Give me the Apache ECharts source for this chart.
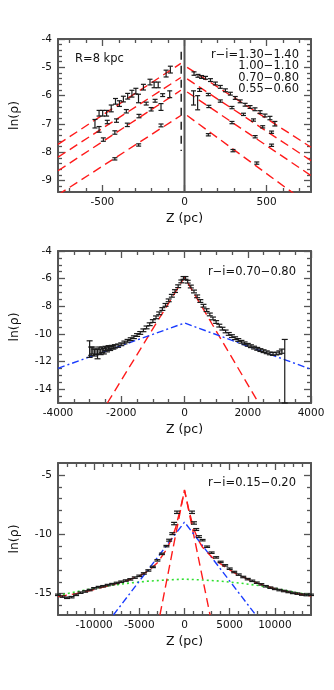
<!DOCTYPE html>
<html>
<head>
<meta charset="utf-8">
<title>ln(rho) vs Z</title>
<script src="https://cdn.jsdelivr.net/npm/echarts@6/dist/echarts.min.js"></script>
<style>
  html, body { margin: 0; padding: 0; background: #fff; }
  #main { width: 334px; height: 690px; }
</style>
</head>
<body>
<div id="main"></div>
<script>
// ---------- panel 1 : R = 8 kpc, four r-i bins  [Z, ln(rho), err]
const binNames = ['r−i=1.30−1.40', '1.00−1.10', '0.70−0.80', '0.55−0.60'];
const bin1Pts = [
  [-545,-6.99,0.15],[-520,-6.62,0.1],[-498,-6.62,0.1],[-474,-6.62,0.1],[-446,-6.45,0.12],
  [-420,-6.2,0.1],[-396,-6.28,0.1],[-372,-6.12,0.1],[-346,-6.02,0.1],[-320,-5.93,0.12],
  [-296,-5.84,0.1],[-250,-5.7,0.1],[-210,-5.52,0.1],[-185,-5.62,0.1],[-160,-5.62,0.1],
  [-112,-5.22,0.12],[-86,-5.08,0.12],
  [58,-5.22,0.06],[82,-5.3,0.05],[104,-5.34,0.05],[128,-5.37,0.05],[158,-5.45,0.05],
  [188,-5.57,0.05],[218,-5.69,0.05],[249,-5.81,0.05],[279,-5.93,0.05],[309,-6.08,0.05],
  [339,-6.2,0.05],[369,-6.32,0.05],[399,-6.4,0.05],[429,-6.48,0.05],[460,-6.58,0.05],
  [490,-6.7,0.05],[520,-6.79,0.06],[550,-6.99,0.08]
];
const bin2Pts = [
  [-520,-7.19,0.1],[-470,-6.93,0.06],[-414,-6.88,0.06],[-354,-6.55,0.06],[-280,-6.1,0.15],
  [-233,-6.28,0.05],[-179,-6.18,0.05],[-133,-5.98,0.05],[-90,-5.95,0.12],
  [92,-5.8,0.05],[145,-5.96,0.04],[218,-6.19,0.04],[289,-6.42,0.04],[359,-6.66,0.04],
  [420,-6.86,0.04],[476,-7.1,0.04],[530,-7.29,0.04]
];
const bin3Pts = [
  [-494,-7.55,0.06],[-424,-7.3,0.06],[-348,-7.03,0.06],[-277,-6.72,0.06],[-203,-6.48,0.06],
  [-143,-6.4,0.12],
  [55,-6.08,0.25],[80,-6.25,0.25],[148,-6.38,0.04],[289,-6.95,0.04],[430,-7.45,0.04],[530,-7.75,0.04]
];
const bin4Pts = [
  [-424,-8.23,0.04],[-279,-7.74,0.04],[-143,-7.05,0.05],
  [145,-7.38,0.04],[295,-7.94,0.04],[440,-8.38,0.04]
];
// exponential fits (straight in ln rho), left and right of the plane
const fitZLeft = [-770, -22];
const fitLnLeft = [[-7.72,-4.86],[-8.17,-5.36],[-8.65,-5.81],[-9.5,-6.7]];
const fitZRight = [16, 770];
const fitLnRight = [[-5.0,-7.82],[-5.41,-8.29],[-5.87,-8.82],[-6.7,-9.9]];
const sunLine = [[-20,-4.45],[-20,-7.95]];
const zeroLine = [[0,-9.4],[0,-4]];

// ---------- panel 2 : r-i = 0.70-0.80, full Z range
const p2Pts = [
  [-3000,-11.1,0.6],[-2950,-11.25,0.3],[-2900,-11.2,0.25],[-2850,-11.35,0.25],[-2800,-11.3,0.2],
  [-2750,-11.45,0.35],[-2700,-11.2,0.25],[-2650,-11.3,0.2],[-2600,-11.15,0.2],[-2550,-11.25,0.2],
  [-2500,-11.05,0.15],[-2450,-11.15,0.15],[-2400,-11.0,0.15],[-2350,-11.05,0.15],[-2300,-10.95,0.12],
  [-2250,-10.98,0.12],[-2200,-10.9,0.12],[-2100,-10.85,0.12],[-2000,-10.75,0.1],[-1900,-10.62,0.1],
  [-1800,-10.5,0.1],[-1700,-10.38,0.1],[-1600,-10.24,0.1],[-1500,-10.08,0.1],[-1400,-9.93,0.1],
  [-1300,-9.74,0.1],[-1200,-9.53,0.1],[-1100,-9.3,0.1],[-1000,-9.07,0.1],[-900,-8.8,0.1],
  [-800,-8.51,0.1],[-700,-8.2,0.1],[-600,-7.9,0.1],[-500,-7.57,0.1],[-400,-7.24,0.1],
  [-300,-6.9,0.1],[-200,-6.55,0.1],[-100,-6.2,0.1],[-30,-5.95,0.1],
  [30,-5.95,0.1],[100,-6.22,0.1],[200,-6.57,0.1],[300,-6.93,0.1],[400,-7.28,0.1],
  [500,-7.62,0.1],[600,-7.96,0.1],[700,-8.28,0.1],[800,-8.59,0.1],[900,-8.88,0.1],
  [1000,-9.14,0.1],[1100,-9.4,0.1],[1200,-9.62,0.1],[1300,-9.82,0.1],[1400,-10.0,0.1],
  [1500,-10.16,0.1],[1600,-10.31,0.1],[1700,-10.44,0.1],[1800,-10.57,0.1],[1900,-10.68,0.1],
  [2000,-10.79,0.1],[2100,-10.89,0.1],[2200,-10.99,0.1],[2300,-11.08,0.1],[2400,-11.17,0.1],
  [2500,-11.25,0.1],[2600,-11.33,0.1],[2700,-11.41,0.1],[2800,-11.45,0.1],[2900,-11.42,0.1],
  [3000,-11.35,0.12],[3080,-11.25,0.15],[3170,-11.2,3.8,0.8]
];
const p2Thin = [[-2440,-15],[0,-5.9],[2345,-15]];
const p2Thick = [[-4000,-12.49],[0,-9.21],[4000,-12.56]];

// ---------- panel 3 : r-i = 0.15-0.20
const p3Pts = [
  [-14000,-15.1,0.06],[-13500,-15.25,0.06],[-13000,-15.35,0.06],[-12500,-15.3,0.06],[-12000,-15.1,0.06],
  [-11500,-14.92,0.06],[-11000,-14.82,0.06],[-10500,-14.7,0.06],[-10000,-14.55,0.06],[-9500,-14.45,0.06],
  [-9000,-14.38,0.06],[-8500,-14.28,0.06],[-8000,-14.2,0.06],[-7500,-14.1,0.06],[-7000,-14.0,0.06],
  [-6500,-13.9,0.06],[-6000,-13.8,0.06],[-5500,-13.65,0.06],[-5000,-13.5,0.06],[-4500,-13.3,0.06],
  [-4000,-13.05,0.06],[-3500,-12.75,0.06],[-3000,-12.2,0.06],[-2500,-11.65,0.06],[-2000,-11.0,0.06],
  [-1700,-10.5,0.08],[-1350,-9.95,0.08],[-1150,-9.1,0.1],[-830,-8.15,0.1],
  [830,-8.15,0.1],[1050,-9.05,0.1],[1300,-9.6,0.08],[1600,-10.2,0.08],[2000,-10.5,0.06],
  [2500,-11.05,0.06],[3000,-11.55,0.06],[3500,-11.95,0.06],[4000,-12.33,0.06],[4500,-12.62,0.06],
  [5000,-12.9,0.06],[5500,-13.18,0.06],[6000,-13.4,0.06],[6500,-13.6,0.06],[7000,-13.78,0.06],
  [7500,-13.92,0.06],[8000,-14.08,0.06],[8500,-14.22,0.06],[9000,-14.38,0.06],[9500,-14.5,0.06],
  [10000,-14.6,0.06],[10500,-14.7,0.06],[11000,-14.78,0.06],[11500,-14.86,0.06],[12000,-14.94,0.06],
  [12500,-15.0,0.06],[13000,-15.08,0.06],[13500,-15.12,0.06],[14000,-15.1,0.06]
];
const p3Thin = [[-2720,-16.8],[0,-6.26],[2830,-16.8]];
const p3Thick = [[-7870,-16.8],[0,-8.98],[7890,-16.8]];
const p3Halo = [[-14000,-15.15],[-12000,-14.85],[-10000,-14.55],[-8000,-14.3],[-6000,-14.1],
  [-4000,-13.95],[-2000,-13.85],[0,-13.78],[2000,-13.85],[4000,-13.95],[6000,-14.1],
  [8000,-14.3],[10000,-14.55],[12000,-14.85],[14000,-15.15]];
const p3Total = [[-14000,-15.25],[-12000,-15.0],[-10000,-14.65],[-8000,-14.25],[-6000,-13.8],
  [-5000,-13.5],[-4000,-13.1],[-3000,-12.4],[-2000,-11.3],[-1500,-10.5],[-1000,-9.5],[-500,-8.0],
  [0,-6.3],[500,-8.0],[1000,-9.5],[1500,-10.45],[2000,-11.1],[3000,-11.9],[4000,-12.5],
  [5000,-13.0],[6000,-13.45],[8000,-14.1],[10000,-14.6],[12000,-14.95],[14000,-15.2]];

// ---------- tick values
const p1XMajor = [-500, 0, 500];
const p1XMinor = [-700,-600,-400,-300,-200,-100,100,200,300,400,600,700];
const p1YMajor = [-9,-8,-7,-6,-5,-4];
const p1YMinor = [-9.2,-8.8,-8.6,-8.4,-8.2,-7.8,-7.6,-7.4,-7.2,-6.8,-6.6,-6.4,-6.2,-5.8,-5.6,-5.4,-5.2,-4.8,-4.6,-4.4,-4.2];
const p2XMajor = [-4000,-2000,0,2000,4000];
const p2XMinor = [-3500,-3000,-2500,-1500,-1000,-500,500,1000,1500,2500,3000,3500];
const p2YMajor = [-14,-12,-10,-8,-6,-4];
const p2YMinor = [-14.5,-13.5,-13,-12.5,-11.5,-11,-10.5,-9.5,-9,-8.5,-7.5,-7,-6.5,-5.5,-5,-4.5];
const p3XMajor = [-10000,-5000,0,5000,10000];
const p3XMinor = [-13000,-12000,-11000,-9000,-8000,-7000,-6000,-4000,-3000,-2000,-1000,
  1000,2000,3000,4000,6000,7000,8000,9000,11000,12000,13000];
const p3YMajor = [-15,-10,-5];
const p3YMinor = [-16,-14,-13,-12,-11,-9,-8,-7,-6];

const FONT = 'DejaVu Sans';
const frame = '#555';
const RED = '#ff1a1a', BLUE = '#1a3cff', GREEN = '#2ee02e';

const grids = [
  { left: 58, top: 39, width: 253, height: 153 },
  { left: 58, top: 251, width: 253, height: 152 },
  { left: 58, top: 463, width: 253, height: 152 }
];

function axisGroup(dim, grid, min, max, major, minor) {
  const pos = dim === 'x' ? ['bottom', 'top'] : ['left', 'right'];
  const out = [];
  pos.forEach((p, k) => {
    const base = {
      type: 'value', gridIndex: grid, position: p, min: min, max: max,
      splitLine: { show: false }, axisLabel: { show: false }
    };
    out.push(Object.assign({}, base, {
      axisLine: { show: true, onZero: false, lineStyle: { color: frame, width: 2 } },
      axisTick: { show: true, inside: true, length: 7, customValues: major, lineStyle: { color: frame, width: 1.3 } }
    }));
    out.push(Object.assign({}, base, {
      axisLine: { show: false, onZero: false },
      axisTick: { show: true, inside: true, length: 4, customValues: minor, lineStyle: { color: frame, width: 1.3 } }
    }));
  });
  // first axis carries labels and name
  out[0].axisLabel = {
    show: true, customValues: major, fontFamily: FONT, fontSize: 10.5, color: '#111',
    margin: dim === 'x' ? 5 : 6, formatter: v => String(v)
  };
  out[0].name = dim === 'x' ? 'Z (pc)' : 'ln(ρ)';
  out[0].nameLocation = 'middle';
  out[0].nameGap = dim === 'x' ? 20 : 37;
  out[0].nameTextStyle = { fontFamily: FONT, fontSize: 12.5, color: '#111' };
  return out;
}

const xAxes = [].concat(
  axisGroup('x', 0, -770, 770, p1XMajor, p1XMinor),
  axisGroup('x', 1, -4000, 4000, p2XMajor, p2XMinor),
  axisGroup('x', 2, -14000, 14000, p3XMajor, p3XMinor)
);
const yAxes = [].concat(
  axisGroup('y', 0, -9.4, -4, p1YMajor, p1YMinor),
  axisGroup('y', 1, -15, -4, p2YMajor, p2YMinor),
  axisGroup('y', 2, -16.8, -4, p3YMajor, p3YMinor)
);

function lineSeries(grid, data, color, type, width) {
  return {
    type: 'line', xAxisIndex: grid * 4, yAxisIndex: grid * 4, data: data,
    symbol: 'none', silent: true, clip: true, z: 3,
    lineStyle: { color: color, type: type, width: width }
  };
}

function errSeries(grid, pts, capHalf) {
  return {
    type: 'custom', xAxisIndex: grid * 4, yAxisIndex: grid * 4, z: 5, silent: true,
    data: pts.map(p => [p[0], p[1], p[2], p.length > 3 ? p[3] : p[2]]),
    encode: { x: 0, y: 1 },
    renderItem: function (params, api) {
      const z = api.value(0), v = api.value(1);
      const a = api.coord([z, v + api.value(3)]);
      const b = api.coord([z, v - api.value(2)]);
      const st = { stroke: '#1a1a1a', lineWidth: 1.2 };
      return {
        type: 'group', children: [
          { type: 'line', shape: { x1: a[0], y1: a[1], x2: b[0], y2: b[1] }, style: st },
          { type: 'line', shape: { x1: a[0] - capHalf, y1: a[1], x2: a[0] + capHalf, y2: a[1] }, style: st },
          { type: 'line', shape: { x1: b[0] - capHalf, y1: b[1], x2: b[0] + capHalf, y2: b[1] }, style: st }
        ]
      };
    }
  };
}

const dash = [9, 5];
const series = [];
// panel 1
fitLnLeft.forEach(f => series.push(lineSeries(0, [[fitZLeft[0], f[0]], [fitZLeft[1], f[1]]], RED, dash, 1.4)));
fitLnRight.forEach(f => series.push(lineSeries(0, [[fitZRight[0], f[0]], [fitZRight[1], f[1]]], RED, dash, 1.4)));
series.push(lineSeries(0, zeroLine, '#555', 'solid', 2));
series.push(lineSeries(0, sunLine, '#222', [8, 6], 1.5));
[bin1Pts, bin2Pts, bin3Pts, bin4Pts].forEach(p => series.push(errSeries(0, p, 2.5)));
// panel 2
series.push(lineSeries(1, p2Thin, RED, dash, 1.4));
series.push(lineSeries(1, p2Thick, BLUE, [7, 3, 2, 3], 1.4));
series.push(errSeries(1, p2Pts, 3));
// panel 3
series.push(lineSeries(2, p3Halo, GREEN, [2, 3], 1.6));
series.push(lineSeries(2, p3Thin, RED, dash, 1.4));
series.push(lineSeries(2, p3Thick, BLUE, [7, 3, 2, 3], 1.4));
series.push(errSeries(2, p3Pts, 3));
series.push(lineSeries(2, p3Total, RED, dash, 1.4));

const txt = (x, y, s, align) => ({
  type: 'text', x: x, y: y, silent: true,
  style: { text: s, font: '11.5px "' + FONT + '"', fill: '#111', align: align, verticalAlign: 'middle' }
});
const graphics = [txt(75, 59, 'R=8 kpc', 'left')];
binNames.forEach((s, i) => graphics.push(txt(299, 55 + i * 11.4, s, 'right')));
graphics.push(txt(296, 272, 'r−i=' + binNames[2].replace('r−i=', ''), 'right'));
graphics.push(txt(296, 483, 'r−i=0.15−0.20', 'right'));

const chart = echarts.init(document.getElementById('main'), null, { renderer: 'canvas' });
chart.setOption({
  animation: false,
  backgroundColor: '#fff',
  grid: grids.map(g => Object.assign({ containLabel: false, outerBoundsMode: 'none' }, g)),
  xAxis: xAxes,
  yAxis: yAxes,
  series: series,
  graphic: graphics
});
</script>
</body>
</html>
